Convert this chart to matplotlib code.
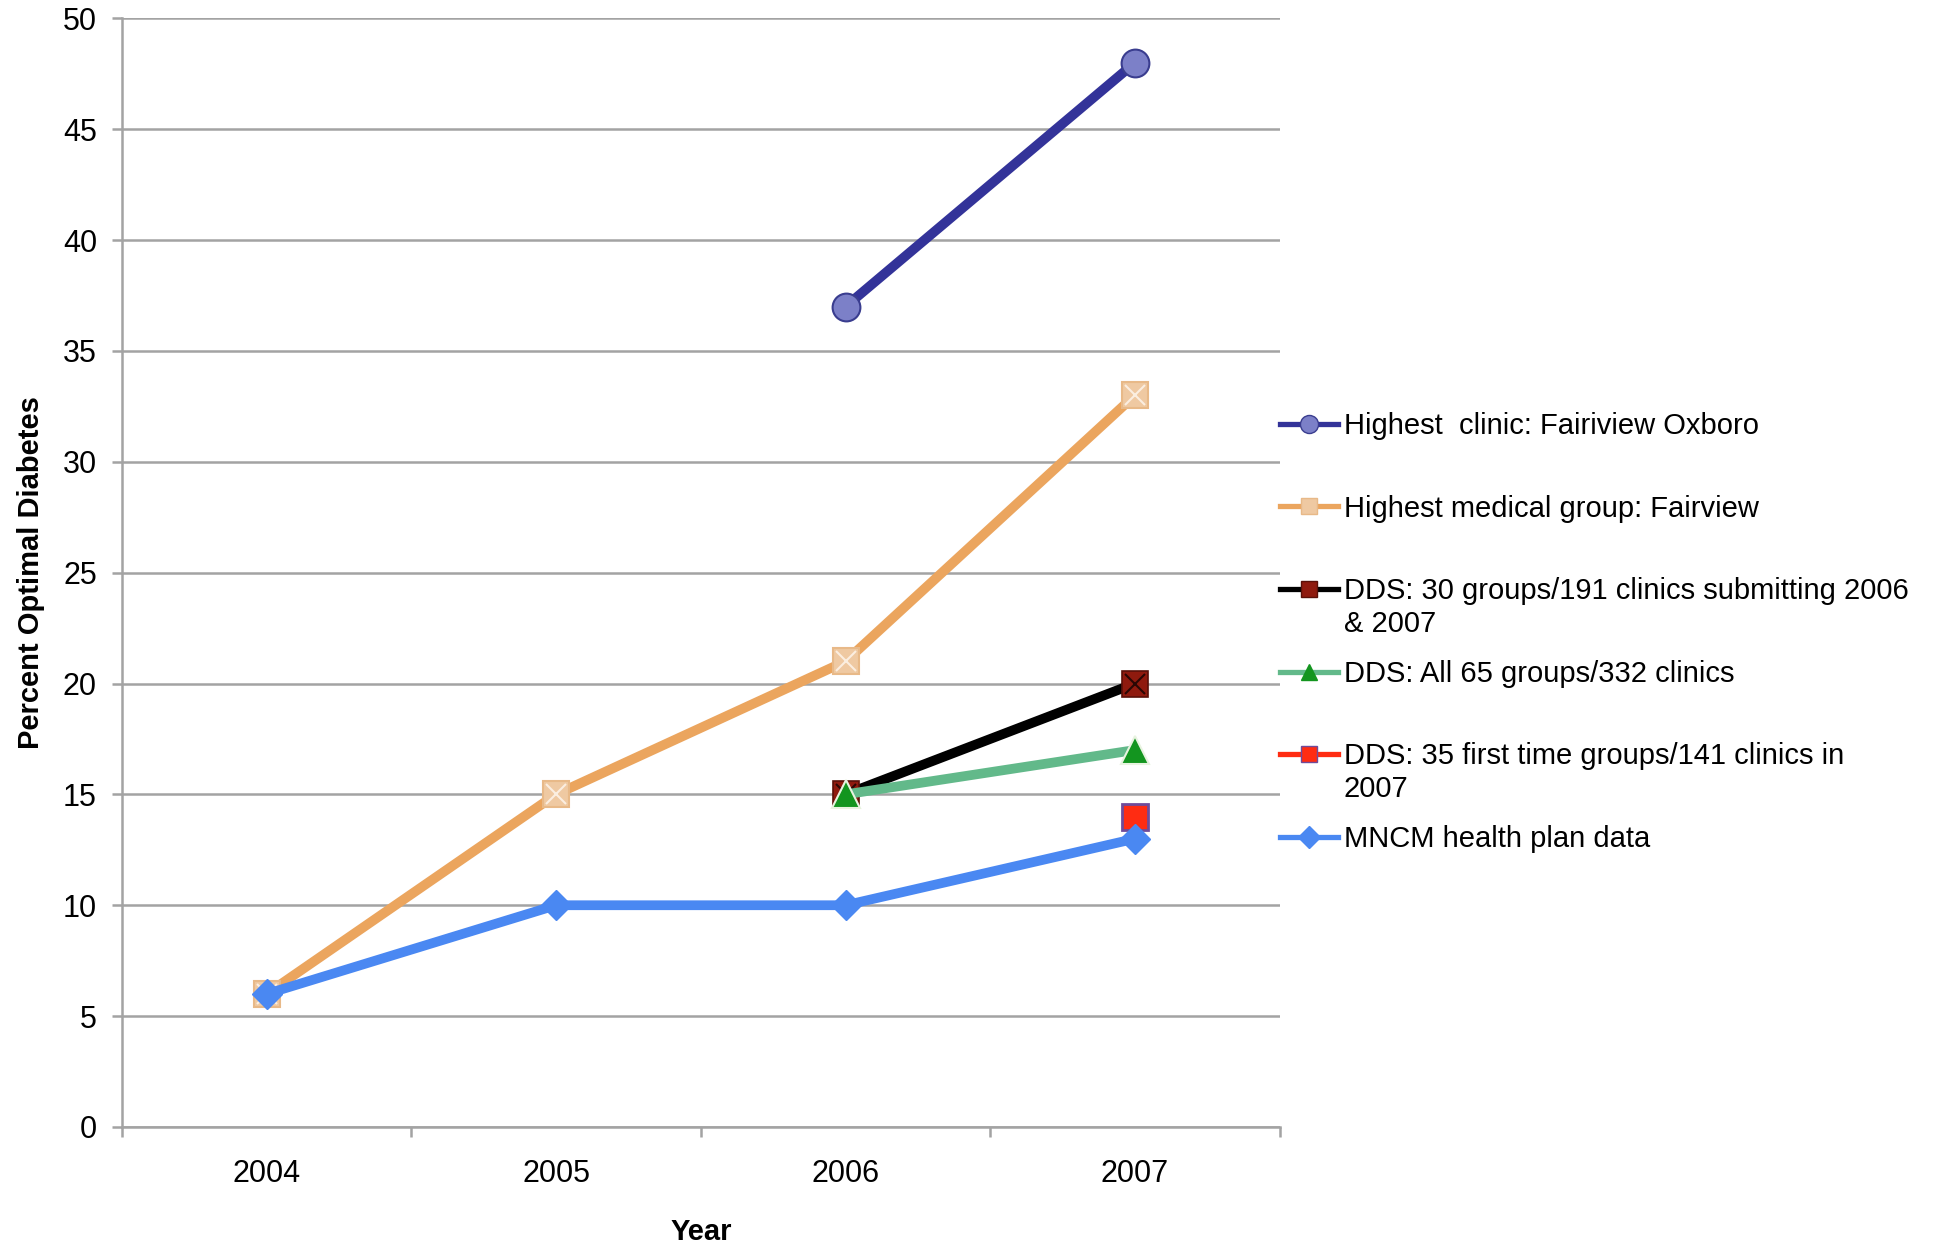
import numpy as np
import matplotlib
matplotlib.use("Agg")
import matplotlib.pyplot as plt
from matplotlib.lines import Line2D

plt.rcParams["font.family"] = ["Liberation Sans", "DejaVu Sans"]

years = ["2004", "2005", "2006", "2007"]
nan = np.nan

clinic_oxboro = [nan, nan, 37, 48]
fairview_group = [6, 15, 21, 33]
dds_30_groups = [nan, nan, 15, 20]
dds_all_65 = [nan, nan, 15, 17]
dds_35_first = [nan, nan, nan, 14]
mncm_plan = [6, 10, 10, 13]

labels = [
    "Highest  clinic: Fairiview Oxboro",
    "Highest medical group: Fairview",
    "DDS: 30 groups/191 clinics submitting 2006",
    "DDS: All 65 groups/332 clinics",
    "DDS: 35 first time groups/141 clinics in",
    "MNCM health plan data",
]
second_lines = {2: "& 2007", 4: "2007"}

grid_c = "#a3a3a3"
x = np.arange(len(years))

fig = plt.figure(figsize=(19.36, 12.45), dpi=100)
ax = fig.add_axes([0.063, 0.0948, 0.598, 0.8905])

# each series drawn above the previous one, markers above its own line
ax.plot(x, clinic_oxboro, "-", color="#333399", lw=7, zorder=3)
ax.plot(x, clinic_oxboro, "o", ms=20, mfc="#7c80c8", mec="#3a3d8f", mew=1.5, zorder=4)

ax.plot(x, fairview_group, "-", color="#eba55e", lw=7, zorder=5)
ax.plot(x, fairview_group, "s", ms=19, mfc="#efc9a2", mec="#e8b988", mew=1.5, zorder=6)
ax.plot(x, fairview_group, "x", ms=14, mec="#fbeee0", mew=1.5, zorder=6.5)

ax.plot(x, dds_30_groups, "-", color="black", lw=7, zorder=7)
ax.plot(x, dds_30_groups, "s", ms=19, mfc="#8f1a0e", mec="#5a1008", mew=1.2, zorder=8)
ax.plot(x, dds_30_groups, "x", ms=15, mec="#2a0704", mew=1.5, zorder=8.5)

ax.plot(x, dds_all_65, "-", color="#62b98a", lw=7, zorder=9)
ax.plot(x, dds_all_65, "^", ms=20, mfc="#13951f", mec="#e8f3e0", mew=1.5, zorder=10)

ax.plot(x, dds_35_first, "s", ms=19, mfc="#ff2c12", mec="#6f4b9a", mew=2, zorder=11)

ax.plot(x, mncm_plan, "-", color="#4a88f2", lw=7, zorder=12)
ax.plot(x, mncm_plan, "D", ms=15, mfc="#4a88f2", mec="#4a88f2", zorder=13)

ax.set_xlim(-0.5, 3.5)
ax.set_ylim(0, 50)
ax.set_yticks(np.arange(0, 51, 5))
ax.set_xticks(x)
ax.set_xticklabels(years)
ax.set_xticks(np.arange(-0.5, 3.6, 1), minor=True)
ax.grid(axis="y", color=grid_c, lw=1.8, zorder=1)
ax.set_axisbelow(True)
for s in ["top", "right"]:
    ax.spines[s].set_visible(False)
for s in ["left", "bottom"]:
    ax.spines[s].set_color(grid_c)
    ax.spines[s].set_linewidth(1.8)
ax.tick_params(axis="y", length=7, width=1.8, color=grid_c, labelsize=22, pad=11)
ax.tick_params(axis="x", which="major", length=0, labelsize=22, pad=23)
ax.tick_params(axis="x", which="minor", length=7, width=1.8, color=grid_c)
ax.set_xlabel("Year", fontsize=21, fontweight="bold", labelpad=21)
ax.set_ylabel("Percent Optimal Diabetes", fontsize=21, fontweight="bold", labelpad=13)

handles = [
    Line2D([], [], color="#333399", lw=3.8, marker="o", ms=13, mfc="#7c80c8", mec="#3a3d8f"),
    Line2D([], [], color="#eba55e", lw=3.8, marker="s", ms=12, mfc="#efc9a2", mec="#e8b988"),
    Line2D([], [], color="black", lw=3.8, marker="s", ms=12, mfc="#8f1a0e", mec="#5a1008"),
    Line2D([], [], color="#62b98a", lw=3.8, marker="^", ms=12, mfc="#13951f", mec="#13951f"),
    Line2D([], [], color="#ff2c12", lw=3.8, marker="s", ms=12, mfc="#ff2c12", mec="#6f4b9a"),
    Line2D([], [], color="#4a88f2", lw=3.8, marker="D", ms=11, mfc="#4a88f2", mec="#4a88f2"),
]
leg = fig.legend(handles, labels, loc="upper left", bbox_to_anchor=(0.661, 0.669),
                 frameon=False, fontsize=21, handlelength=2.0, handletextpad=0.2,
                 labelspacing=1.87, borderpad=0, borderaxespad=0)

fig.canvas.draw()
texts = leg.get_texts()
for i, s in second_lines.items():
    bb = texts[i].get_window_extent()
    fig.text(bb.x0 / fig.bbox.width, (bb.y0 - 33) / fig.bbox.height, s,
             fontsize=21, ha="left", va="bottom")

fig.savefig("out.png", dpi=100)
